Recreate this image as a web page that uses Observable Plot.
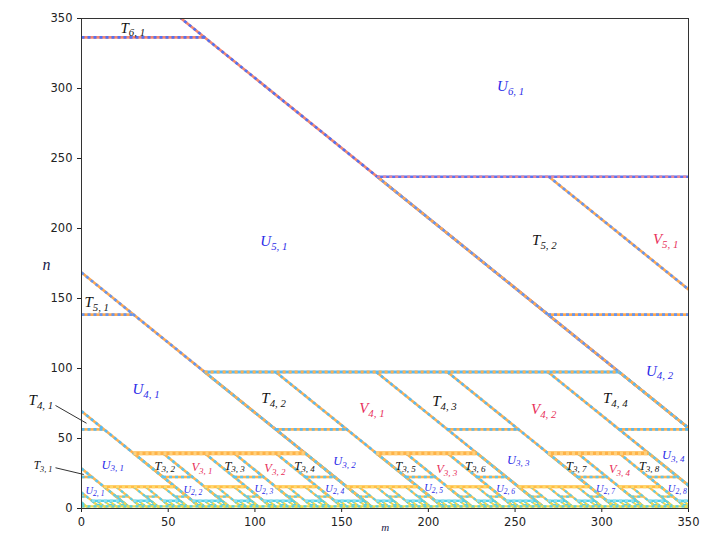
<!DOCTYPE html>
<html><head><meta charset="utf-8">
<script src="https://cdn.jsdelivr.net/npm/d3@7"></script>
<script src="https://cdn.jsdelivr.net/npm/@observablehq/plot@0.6"></script>
<style>body{margin:0;background:#fff} #chart svg{display:block}</style>
</head><body><div id="chart"></div>
<script>
// ---- data (m horizontal, n vertical; slanted lines have m + n = c) ----
const xTicks = [0, 50, 100, 150, 200, 250, 300, 350];
const yTicks = [0, 50, 100, 150, 200, 250, 300, 350];

// bands 6 … 0
const bandTop    = [null, 237, 97.5, 39.5, 15.5, 5.5, 1.5];
const bandBottom = [336.5, 138.5, 56.5, 22.5, 8.5, 2.5, 0.5];
const bandTWidth = [null, 99, 41, 17, 7, 3, 1];
const bandCorner = [407.5, 168.5, 69.5, 28.5, 11.5, 4.5, null];   // T_{k,1}: c of its slanted side

// left sides (c) of the parallelograms T_{k,j}, j >= 2
const band6T = [];
const band5T = [407.5];
const band4T = [168.5, 267.5, 366.5];
const band3T = [69.5, 110.5, 151.5, 209.5, 250.5, 308.5, 349.5];
const band2T = [28.5, 45.5, 62.5, 86.5, 103.5, 127.5, 144.5, 168.5, 185.5, 202.5, 226.5, 243.5,
                267.5, 284.5, 301.5, 325.5, 342.5];
const band1T = [11.5, 18.5, 25.5, 35.5, 42.5, 52.5, 59.5, 69.5, 76.5, 83.5, 93.5, 100.5, 110.5,
                117.5, 124.5, 134.5, 141.5, 151.5, 158.5, 165.5, 175.5, 182.5, 192.5, 199.5, 209.5,
                216.5, 223.5, 233.5, 240.5, 250.5, 257.5, 264.5, 274.5, 281.5, 291.5, 298.5, 308.5,
                315.5, 322.5, 332.5, 339.5, 349.5];
const band0T = [];

// top edges of the bands, as c-intervals
const band6Tops = [];
const band5Tops = [[407.5, 984.5]];
const band4Tops = [[168.5, 407.5]];
const band3Tops = [[69.5, 168.5], [209.5, 267.5], [308.5, 366.5]];
const band2Tops = [[28.5, 69.5], [86.5, 110.5], [127.5, 151.5], [168.5, 209.5], [226.5, 250.5],
                   [267.5, 308.5], [325.5, 349.5], [366.5, 407.5]];
const band1Tops = [[11.5, 28.5], [35.5, 45.5], [52.5, 62.5], [69.5, 86.5], [93.5, 103.5],
                   [110.5, 127.5], [134.5, 144.5], [151.5, 168.5], [175.5, 185.5], [192.5, 202.5],
                   [209.5, 226.5], [233.5, 243.5], [250.5, 267.5], [274.5, 284.5], [291.5, 301.5],
                   [308.5, 325.5], [332.5, 342.5], [349.5, 366.5]];
const band0Tops = [[1.5, 352]];

const bandT    = [band6T, band5T, band4T, band3T, band2T, band1T, band0T];
const bandTops = [band6Tops, band5Tops, band4Tops, band3Tops, band2Tops, band1Tops, band0Tops];

// colours: [edges A, edges B, tops A, tops B]
const bandColors = [
  ["#f4866f", "#5372f2", "#5372f2", "#f4866f"],
  ["#ffa851", "#6496f2", "#5a72f2", "#e8889a"],
  ["#ffb050", "#58baf3", "#58baf3", "#ffb050"],
  ["#ffb54f", "#5cc6f0", "#ffb347", "#ffcf7a"],
  ["#ffc04c", "#5ccde8", "#ffbd45", "#ffd86a"],
  ["#f2d84a", "#55d0e6", "#55cfe6", "#8fe0ee"],
  ["#efdc4a", "#55cfe6", "#efdc4a", "#55cfe6"]
];
const bandWidths = [2.6, 2.6, 2.6, 2.6, 2.2, 2, 2];
const topWidths  = [2.6, 2.6, 2.8, 4, 3, 2.4, 2.4];

// region labels
const labelNames = ["T6,1","U6,1","U5,1","T5,2","V5,1","T5,1","U4,1","T4,2","V4,1","T4,3","V4,2","T4,4","U4,2","T4,1",
  "T3,1","U3,1","T3,2","V3,1","T3,3","V3,2","T3,4","U3,2","T3,5","V3,3","T3,6","U3,3","T3,7","V3,4","T3,8","U3,4",
  "U2,1","U2,2","U2,3","U2,4","U2,5","U2,6","U2,7","U2,8"];
const labelM = [22.5,239.6,103.1,259.8,329.5,1.7,29.4,103.7,160.1,202.2,259.2,300.7,325.5,-30.5,
  -27.6,11.5,42.1,63.4,82.4,105.4,122.7,145.2,180.9,204.5,221.2,245.4,279.4,304.1,321.4,334.7,
  2.3,58.8,99.7,140.6,197.6,239.1,296.7,338.1];
const labelN = [342.9,301.4,190.7,191.4,192.1,147.1,85,78.6,71.4,76.4,70.7,78.6,97.9,77.1,
  30.7,31.4,30.7,29.3,30.7,28.6,30.7,33.6,30.7,27.9,30.7,35,30.7,27.9,30.7,37.9,
  12.9,13.6,14.3,14.3,15,14.3,14.3,14.3];
const leaderFrom = [[-15, 73.6], [-15, 29.1]];
const leaderTo   = [[2.9, 60.9], [1.3, 24.3]];

// ---- build marks ----
const marks = [];
bandTop.forEach((_, i) => {
  const yt = bandTop[i], yb = bandBottom[i], w = bandTWidth[i], c1 = bandCorner[i];
  const edges = [], tops = [];
  if (c1 != null) {
    edges.push({x1: 0, y1: c1, x2: c1, y2: 0});
    edges.push({x1: 0, y1: yb, x2: c1 - yb, y2: yb});
  }
  for (const c of bandT[i]) {
    const cr = c + w;
    edges.push({x1: c - yt, y1: yt, x2: c, y2: 0});
    edges.push({x1: cr - yt, y1: yt, x2: cr, y2: 0});
    edges.push({x1: c - yb, y1: yb, x2: cr - yb, y2: yb});
  }
  for (const [a, b] of bandTops[i]) tops.push({x1: a - yt, y1: yt, x2: b - yt, y2: yt});
  const [eA, eB, tA, tB] = bandColors[i];
  const o = {x1: "x1", y1: "y1", x2: "x2", y2: "y2", clip: true};
  marks.push(Plot.link(edges, {...o, stroke: eA, strokeWidth: bandWidths[i]}));
  marks.push(Plot.link(edges, {...o, stroke: eB, strokeWidth: bandWidths[i], strokeDasharray: "3,3"}));
  marks.push(Plot.link(tops, {...o, stroke: tA, strokeWidth: topWidths[i]}));
  marks.push(Plot.link(tops, {...o, stroke: tB, strokeWidth: topWidths[i], strokeDasharray: "3,3"}));
});

const leaders = leaderFrom.map((f, i) => ({x1: f[0], y1: f[1], x2: leaderTo[i][0], y2: leaderTo[i][1]}));
marks.push(Plot.link(leaders, {x1: "x1", y1: "y1", x2: "x2", y2: "y2", stroke: "#333", strokeWidth: 1}));

const labels = labelNames.map((name, i) => ({name, m: labelM[i], n: labelN[i]}));
const levelOf = d => +d.name[1];
const colorOf = d => d.name[0] === "T" ? "#111" : d.name[0] === "U" ? "#2b2be8" : "#e8305a";
const groups = [
  {f: d => levelOf(d) >= 4, size: 15},
  {f: d => levelOf(d) === 3 && d.name !== "T3,1", size: 12.5},
  {f: d => d.name === "T3,1", size: 11.5},
  {f: d => levelOf(d) === 2, size: 10.5}
];
for (const g of groups) {
  const data = labels.filter(g.f);
  for (const col of ["#111", "#2b2be8", "#e8305a"]) {
    const dd = data.filter(d => colorOf(d) === col);
    if (!dd.length) continue;
    marks.push(Plot.text(dd, {x: "m", y: "n", text: "name", fill: col, fontSize: g.size,
      fontStyle: "italic", fontFamily: "Liberation Serif, DejaVu Serif, serif",
      textAnchor: "start"}));
  }
}
const axisNames = [{t: "n", m: -20.2, n: 174.3, s: 16}];
marks.push(Plot.text(axisNames, {x: "m", y: "n", text: "t", fontSize: 16, fontStyle: "italic",
  fill: "#1a1a4a", fontFamily: "Liberation Serif, DejaVu Serif, serif"}));
const xName = [{t: "m", m: 175.1, n: -13.6}];
marks.push(Plot.text(xName, {x: "m", y: "n", text: "t", fontSize: 11, fontStyle: "italic",
  fill: "#1a1a4a", fontFamily: "Liberation Serif, DejaVu Serif, serif"}));
marks.push(Plot.frame({stroke: "#333", strokeWidth: 1}));

const plot = Plot.plot({
  width: 714, height: 534,
  marginLeft: 81, marginRight: 26, marginTop: 18, marginBottom: 26,
  style: {fontSize: "11.5px", fontFamily: "DejaVu Sans, sans-serif", color: "#222", background: "#fff"},
  x: {domain: [0, 350], ticks: xTicks, label: null, tickSize: 4},
  y: {domain: [0, 350], ticks: yTicks, label: null, tickSize: 4},
  marks
});
document.getElementById("chart").appendChild(plot);

// subscripts for region labels
const labelRe = /^([TUV])(\d),(\d)$/;
plot.querySelectorAll("text").forEach(el => {
  const mt = labelRe.exec(el.textContent);
  if (!mt) return;
  el.textContent = mt[1];
  const ts = document.createElementNS("http://www.w3.org/2000/svg", "tspan");
  ts.setAttribute("font-size", "0.72em");
  ts.setAttribute("dy", "0.3em");
  ts.textContent = mt[2] + ", " + mt[3];
  el.appendChild(ts);
});
</script></body></html>
